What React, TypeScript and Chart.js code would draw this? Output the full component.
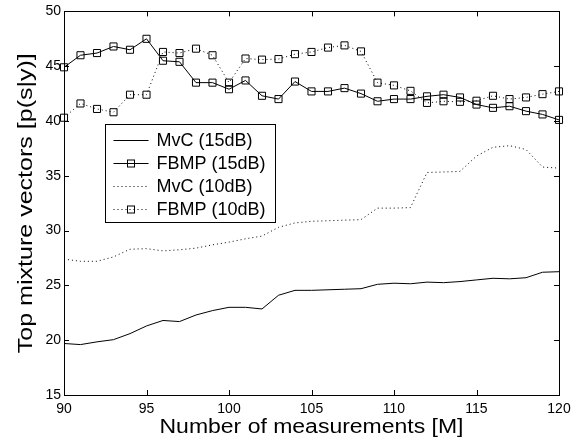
import { useEffect, useRef } from 'react';
import { Chart, registerables } from 'chart.js';

Chart.register(...registerables);

const xValues = [90, 91, 92, 93, 94, 95, 96, 97, 98, 99, 100, 101, 102, 103, 104, 105, 106, 107, 108, 109, 110, 111, 112, 113, 114, 115, 116, 117, 118, 119, 120];
const mvc15 = [19.7, 19.6, 19.85, 20.05, 20.6, 21.3, 21.8, 21.7, 22.3, 22.7, 23.0, 23.0, 22.85, 24.1, 24.55, 24.55, 24.6, 24.65, 24.7, 25.1, 25.2, 25.15, 25.3, 25.25, 25.35, 25.5, 25.65, 25.6, 25.7, 26.2, 26.25];
const fbmp15 = [44.9, 46.0, 46.2, 46.8, 46.5, 47.5, 45.5, 45.4, 43.5, 43.5, 42.9, 43.7, 42.3, 42.0, 43.6, 42.7, 42.7, 43.0, 42.5, 41.8, 42.0, 42.0, 42.25, 42.4, 42.15, 41.5, 41.2, 41.35, 40.9, 40.6, 40.1];
const mvc10 = [27.4, 27.2, 27.2, 27.6, 28.3, 28.35, 28.15, 28.25, 28.4, 28.7, 28.95, 29.25, 29.5, 30.3, 30.7, 30.85, 30.9, 30.95, 31.0, 32.05, 32.05, 32.1, 35.3, 35.35, 35.4, 36.8, 37.6, 37.75, 37.4, 35.8, 35.7];
const fbmp10 = [40.3, 41.6, 41.1, 40.8, 42.4, 42.4, 46.3, 46.2, 46.6, 46.0, 43.5, 45.7, 45.6, 45.65, 46.1, 46.3, 46.7, 46.9, 46.35, 43.5, 43.25, 42.75, 41.65, 41.8, 41.75, 41.85, 42.3, 42.0, 42.15, 42.45, 42.7];
const seriesLabels = ['MvC (15dB)', 'FBMP (15dB)', 'MvC (10dB)', 'FBMP (10dB)'];
const xTicks = [90, 95, 100, 105, 110, 115, 120];
const yTicks = [15, 20, 25, 30, 35, 40, 45, 50];
const xTitle = 'Number of measurements [M]';
const yTitle = 'Top mixture vectors [p(s|y)]';

const FONT = '"Liberation Sans", Arial, Helvetica, sans-serif';
const DOT = [1, 3];

const toPoints = (ys: number[]) => xValues.map((x, i) => ({ x, y: ys[i] }));

const frameTicksPlugin = {
  id: 'frameTicks',
  afterDatasetsDraw(chart: any) {
    const { ctx, chartArea } = chart;
    const { left, right, top, bottom } = chartArea;
    const xs = chart.scales.x;
    const ys = chart.scales.y;
    const tl = 5;
    ctx.save();
    ctx.strokeStyle = '#000';
    ctx.lineWidth = 1;
    ctx.beginPath();
    xTicks.forEach((t) => {
      const px = Math.round(xs.getPixelForValue(t)) + 0.5;
      ctx.moveTo(px, bottom);
      ctx.lineTo(px, bottom - tl);
      ctx.moveTo(px, top);
      ctx.lineTo(px, top + tl);
    });
    yTicks.forEach((t) => {
      const py = Math.round(ys.getPixelForValue(t)) + 0.5;
      ctx.moveTo(left, py);
      ctx.lineTo(left + tl, py);
      ctx.moveTo(right, py);
      ctx.lineTo(right - tl, py);
    });
    ctx.stroke();
    ctx.strokeRect(Math.round(left) + 0.5, Math.round(top) + 0.5, Math.round(right - left), Math.round(bottom - top));
    ctx.restore();
  },
};

function stretchedText(ctx: any, text: string, x: number, y: number, target: number) {
  const w = ctx.measureText(text).width;
  const sx = target / w;
  ctx.save();
  ctx.translate(x, y);
  ctx.scale(sx, 1);
  ctx.textAlign = 'center';
  ctx.fillText(text, 0, 0);
  ctx.restore();
}

const titlesPlugin = {
  id: 'axisTitles',
  afterDraw(chart: any) {
    const { ctx, chartArea } = chart;
    const cx = (chartArea.left + chartArea.right) / 2;
    const cy = (chartArea.top + chartArea.bottom) / 2;
    ctx.save();
    ctx.fillStyle = '#000';
    ctx.textBaseline = 'alphabetic';
    ctx.font = `20px ${FONT}`;
    stretchedText(ctx, xTitle, cx, chartArea.bottom + 38, 304);
    ctx.translate(chartArea.left - 32, cy);
    ctx.rotate(-Math.PI / 2);
    ctx.font = `21px ${FONT}`;
    stretchedText(ctx, yTitle, 0, 0, 300);
    ctx.restore();
  },
};

const legendPlugin = {
  id: 'matLegend',
  afterDraw(chart: any) {
    const { ctx, chartArea } = chart;
    const bx = Math.round(chartArea.left + 41) + 0.5;
    const by = Math.round(chartArea.top + 113) + 0.5;
    const bw = 170;
    const bh = 98;
    ctx.save();
    ctx.fillStyle = '#fff';
    ctx.fillRect(bx, by, bw, bh);
    ctx.strokeStyle = '#000';
    ctx.lineWidth = 1;
    ctx.strokeRect(bx, by, bw, bh);
    ctx.font = `18px ${FONT}`;
    ctx.textBaseline = 'middle';
    ctx.fillStyle = '#000';
    chart.data.datasets.forEach((ds: any, i: number) => {
      const cy = Math.round(by + 15 + i * 23.3) + 0.5;
      const x0 = bx + 8;
      const x1 = bx + 43;
      ctx.beginPath();
      ctx.setLineDash(ds.borderDash || []);
      ctx.moveTo(x0, cy);
      ctx.lineTo(x1, cy);
      ctx.stroke();
      ctx.setLineDash([]);
      if (ds.pointRadius > 0) {
        const mx = Math.round((x0 + x1) / 2);
        ctx.strokeRect(mx - 3.5, cy - 3.5, 7, 7);
      }
      ctx.fillText(ds.label, bx + 51, cy + 1);
    });
    ctx.restore();
  },
};

export default function App() {
  const ref = useRef<HTMLCanvasElement>(null);
  useEffect(() => {
    document.body.style.margin = '0';
    const canvas = ref.current;
    if (!canvas) return;
    const common = {
      borderColor: '#000',
      borderWidth: 1,
      tension: 0,
      fill: false,
      clip: false,
      pointStyle: 'rect',
      pointBackgroundColor: 'rgba(0,0,0,0)',
      pointBorderColor: '#000',
      pointBorderWidth: 1,
    };
    const chart = new Chart(canvas, {
      type: 'line',
      data: {
        datasets: [
          { ...common, label: seriesLabels[0], data: toPoints(mvc15), pointRadius: 0 },
          { ...common, label: seriesLabels[1], data: toPoints(fbmp15), pointRadius: 5 },
          { ...common, label: seriesLabels[2], data: toPoints(mvc10), pointRadius: 0, borderDash: DOT },
          { ...common, label: seriesLabels[3], data: toPoints(fbmp10), pointRadius: 5, borderDash: DOT },
        ],
      },
      options: {
        animation: false,
        responsive: false,
        events: [],
        layout: { padding: { top: 7, right: 26, left: 0, bottom: 0 } },
        plugins: { legend: { display: false }, tooltip: { enabled: false } },
        scales: {
          x: {
            type: 'linear',
            min: 90,
            max: 120,
            afterFit: (s: any) => { s.height = 51; },
            afterBuildTicks: (s: any) => { s.ticks = xTicks.map((v) => ({ value: v })); },
            grid: { display: false, drawTicks: false },
            border: { display: false },
            ticks: { color: '#000', font: { family: FONT, size: 14 }, padding: 6, maxRotation: 0 },
            title: { display: false },
          },
          y: {
            type: 'linear',
            min: 15,
            max: 50,
            afterFit: (s: any) => { s.width = 64; },
            afterBuildTicks: (s: any) => { s.ticks = yTicks.map((v) => ({ value: v })); },
            grid: { display: false, drawTicks: false },
            border: { display: false },
            ticks: { color: '#000', font: { family: FONT, size: 14 }, padding: 3 },
            title: { display: false },
          },
        },
      },
      plugins: [frameTicksPlugin, titlesPlugin, legendPlugin],
    } as any);
    return () => chart.destroy();
  }, []);
  return (
    <div style={{ width: 585, height: 446, background: '#fff' }}>
      <canvas ref={ref} width={585} height={446} style={{ display: 'block' }} />
    </div>
  );
}
